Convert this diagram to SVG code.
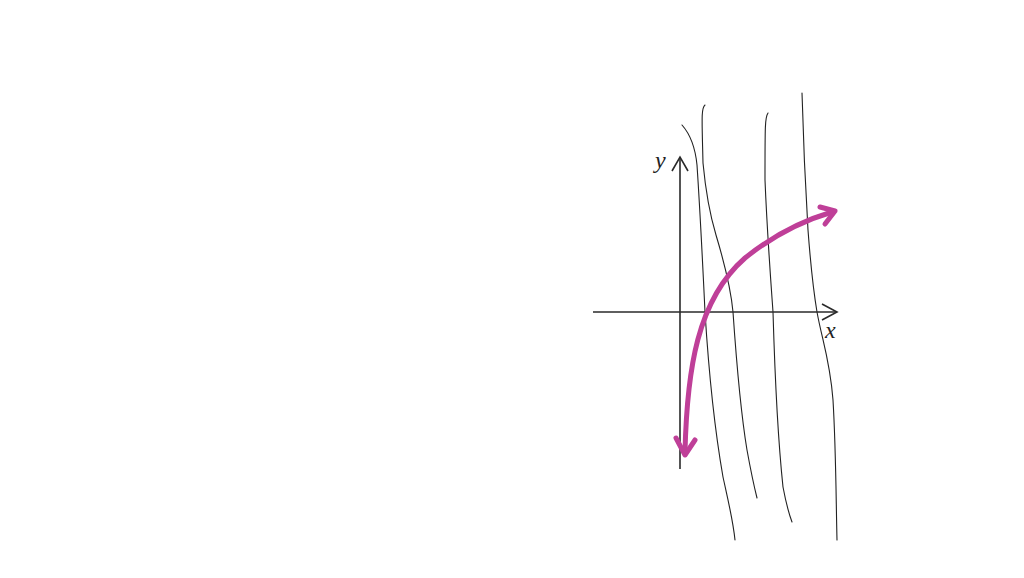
<svg xmlns="http://www.w3.org/2000/svg" width="1024" height="578" viewBox="0 0 1024 578">
<style>
.thin{fill:none;stroke:#222;stroke-width:1.1;stroke-linecap:round}
.axis{fill:none;stroke:#2a2a2a;stroke-width:1.6}
.lbl{font-family:"Liberation Serif",serif;font-style:italic;font-size:24px;fill:#222}
.curve{fill:none;stroke:#BF3F98;stroke-width:5;stroke-linecap:round;stroke-linejoin:round}
</style>
<rect width="1024" height="578" fill="#fff"/>
<g id="lines">
<path class="thin" d="M682,125 C690,134 695,145 697,165 C700,210 703,270 705,312 C708,360 713,420 723,477 C728,500 733,520 735,540"/>
<path class="thin" d="M705,105 C701,108 702,120 703,163 C706,195 710,215 716,235 C725,265 731,290 733,312 C737,370 742,420 747,450 C751,472 754,486 757,498"/>
<path class="thin" d="M768,113 C765,117 765,125 765,180 C767,230 770,270 773,312 C775,380 778,440 783,487 C786,503 789,514 792,522"/>
<path class="thin" d="M802,93 C803,130 805,180 808,230 C811,270 815,300 817,312 C822,340 830,360 833,400 C836,450 836,500 837,540"/>
</g>
<g id="axes">
<line class="axis" x1="593" y1="312" x2="837" y2="312"/>
<polyline class="axis" points="822,304 837,312 822,320"/>
<line class="axis" x1="680" y1="469" x2="680" y2="157"/>
<polyline class="axis" points="672,171 680,157 688,171"/>
<text class="lbl" x="655" y="168">y</text>
<text class="lbl" x="825" y="338">x</text>
</g>
<g id="connectors">
<path class="curve" d="M685,452 C687,370 697,300 745,258 C775,234 805,220 832,212"/>
<polyline class="curve" points="676,438 685,455 695,440"/>
<polyline class="curve" points="820,207 835,211 825,224"/>
</g>
</svg>
